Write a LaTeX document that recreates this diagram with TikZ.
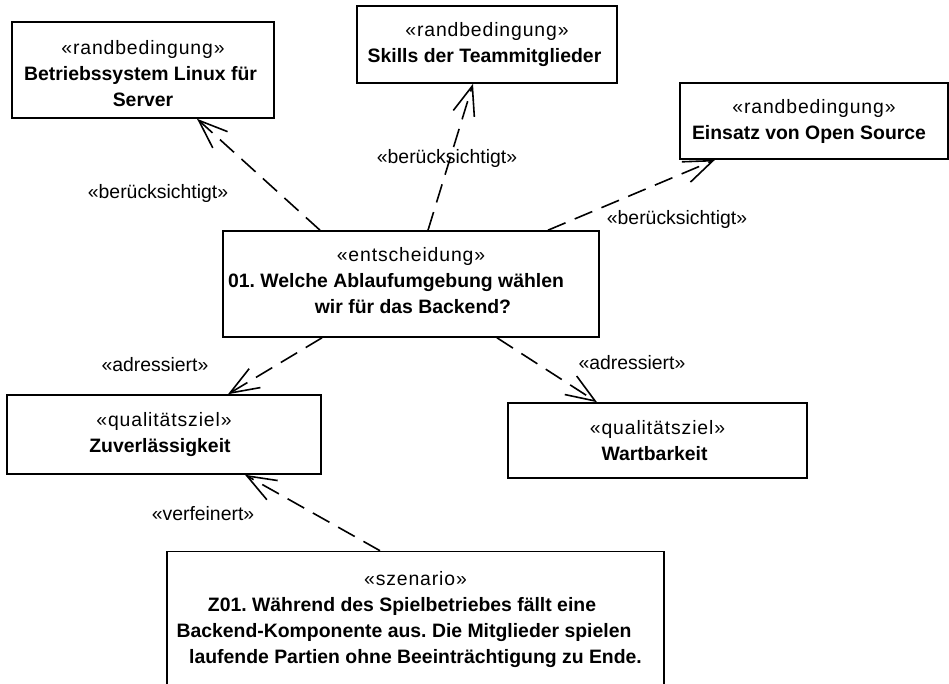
\documentclass[tikz,border=0pt]{standalone}
\usepackage{fontspec}
\setmainfont{Liberation Sans}
\newfontfamily\stereofont[LetterSpace=4.5]{Liberation Sans}
\usetikzlibrary{arrows.meta}
\frenchspacing
\begin{document}
\begin{tikzpicture}[x=1pt,y=-1pt,
  umlbox/.style={draw, line width=1.6pt, inner sep=0pt, align=center,
    font=\fontsize{19.4}{26}\selectfont},
  dep/.style={line width=1.6pt, dash pattern=on 19pt off 10pt,
    -{Straight Barb[length=29pt,width=22pt,line width=1.6pt]}},
  lbl/.style={inner sep=0pt, font=\fontsize{19.4}{22}\selectfont}]
\useasboundingbox (0,0) rectangle (949,683);

\node[umlbox, minimum width=262pt, minimum height=96pt] (b1) at (143,70)
  {{\stereofont «randbedingung»}\rule{0pt}{21pt}\\\hspace*{-5pt}\textbf{Betriebssystem Linux für}\\\textbf{Server}};
\node[umlbox, minimum width=260pt, minimum height=77pt] (b2) at (487,44.5)
  {{\stereofont «randbedingung»}\\\hspace*{-5pt}\textbf{Skills der Teammitglieder}};
\node[umlbox, minimum width=268pt, minimum height=76pt] (b3) at (814,121)
  {{\stereofont «randbedingung»}\\\hspace*{-10pt}\textbf{Einsatz von Open Source}};
\node[umlbox, minimum width=376pt, minimum height=106pt] (b4) at (411,284)
  {{\stereofont «entscheidung»}\\\hspace*{-30pt}\textbf{01. Welche Ablaufumgebung wählen}\\\hspace*{4pt}\textbf{wir für das Backend?}\rule[-7pt]{0pt}{7pt}};
\node[umlbox, minimum width=314pt, minimum height=79pt] (b5) at (164,434.5)
  {{\stereofont «qualitätsziel»}\\\hspace*{-8pt}\textbf{Zuverlässigkeit}};
\node[umlbox, minimum width=299pt, minimum height=75pt] (b6) at (657.5,440.5)
  {{\stereofont «qualitätsziel»}\\\hspace*{-6pt}\textbf{Wartbarkeit}};
\node[umlbox, minimum width=497pt, minimum height=137pt] (b7) at (415.5,620)
  {{\stereofont «szenario»}\\\hspace*{-27pt}\textbf{Z01. Während des Spielbetriebes fällt eine}\\\hspace*{-23pt}\textbf{Backend-Komponente aus. Die Mitglieder spielen}\\\textbf{laufende Partien ohne Beeinträchtigung zu Ende.}};

\draw[dep] ([xshift=-91pt]b4.north) -- ([xshift=54pt]b1.south);
\draw[dep] ([xshift=17pt]b4.north) -- ([xshift=-14pt]b2.south);
\draw[dep] ([xshift=137pt]b4.north) -- ([xshift=-99pt]b3.south);
\draw[dep] ([xshift=-89pt]b4.south) -- ([xshift=64pt]b5.north);
\draw[dep] ([xshift=86pt]b4.south) -- ([xshift=-60.5pt]b6.north);
\draw[dep] ([xshift=-35.5pt]b7.north) -- ([xshift=81pt]b5.south);

\node[lbl] (l1) at (158,193) {«berücksichtigt»};
\node[lbl] (l2) at (447,158) {«berücksichtigt»};
\node[lbl] (l3) at (677,219) {«berücksichtigt»};
\node[lbl] (l4) at (155,365) {«adressiert»};
\node[lbl] (l5) at (632,363) {«adressiert»};
\node[lbl] (l6) at (203,514) {«verfeinert»};
\end{tikzpicture}
\end{document}
